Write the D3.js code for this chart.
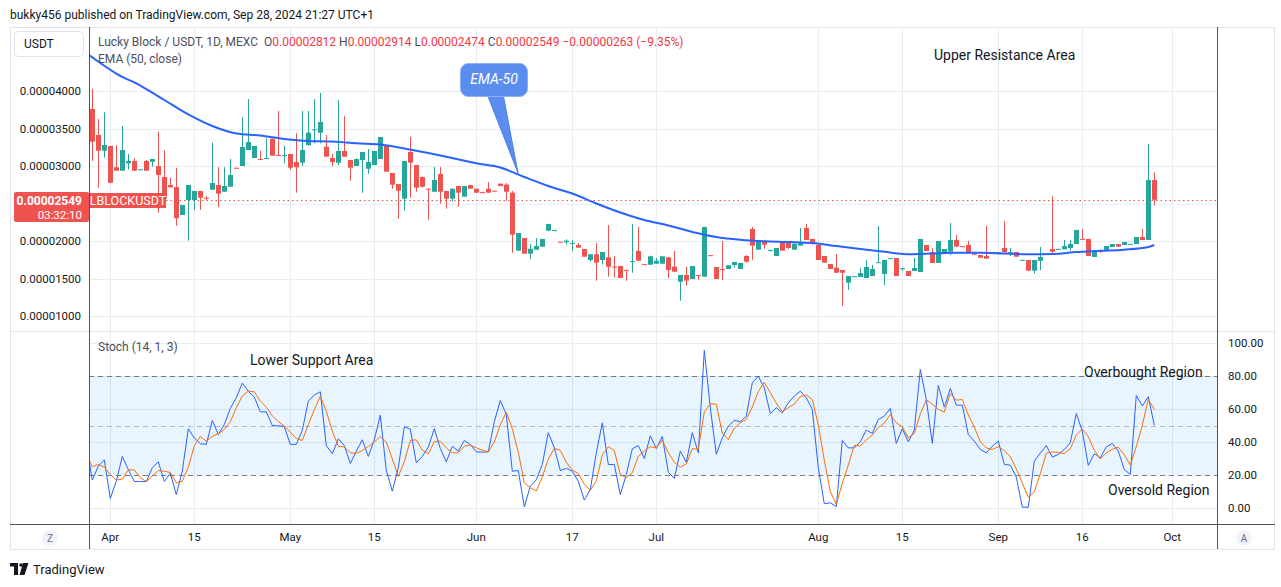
<!DOCTYPE html>
<html><head><meta charset="utf-8">
<script src="https://cdn.jsdelivr.net/npm/d3@7/dist/d3.min.js"></script>
<style>
body{margin:0;background:#fff;}
svg{display:block;font-family:Roboto,"Noto Sans",sans-serif;}
</style></head><body>
<svg id="c" width="1281" height="587"></svg>
<script>
// ---------- DATA (prices in units of 1e-8 USDT, one entry per daily bar, bar 0 = Mar 29 2024) ----------
const PRICE_UNIT = 1e-8;
const opens = [3760,3413,3204,3267,2983,2937,3036,3067,2950,3067,
3057,3000,2853,2747,2720,2347,2547,2547,2667,2577,
2684,2747,2657,2724,2977,3000,3213,3107,3093,3093,
3364,3147,3133,3160,3053,3044,3280,3480,3444,3257,
3107,3044,3200,3080,3000,3080,2964,3013,3093,3280,
2907,2760,2564,3187,3013,2853,2697,2657,2893,2667,
2564,2733,2591,2747,2697,2652,2697,2670,2764,2751,
2644,1871,2040,1831,1884,1924,2137,2140,1990,1983,
1970,1947,1893,1747,1823,1747,1783,1660,1667,1615,
1725,1867,1692,1684,1697,1697,1783,1657,1457,1547,
1493,1545,1524,1811,1653,1625,1627,1680,1627,1800,
2160,1884,1991,1878,1800,1991,1991,1884,1937,2173,
2027,1947,1800,1693,1644,1613,1444,1527,1520,1507,
1533,1714,1560,1767,1773,1634,1600,1600,1587,1947,
1853,1707,1827,1857,2013,1931,1947,1836,1813,1800,
1851,1847,1907,1847,1853,1745,1747,1604,1737,1825,
1893,1891,1889,1907,1960,2029,2027,1787,1880,1867,
1920,1960,1947,1958,1960,2053,2013,2812];
const highs = [4027,3627,3716,3270,3280,3533,3160,3102,2960,3080,
3093,3457,3209,2844,2977,2480,2747,2667,2667,2600,
3311,2983,2983,3093,2977,3649,3893,3267,3204,3369,
3364,3733,3267,3160,3436,3733,3733,3893,3973,3413,
3160,3880,3667,3080,3100,3187,3227,3200,3387,3280,
2907,2760,3067,3387,3013,2860,2697,2987,2987,2667,
2697,2733,2733,2747,2697,2652,2787,2670,2769,2773,
2667,2107,2040,1960,2040,2027,2227,2145,1990,2023,
2013,1973,1893,1823,1973,1853,2213,1800,1667,1615,
2227,2187,1692,1796,1773,1796,1783,1871,1547,1657,
1667,1545,2187,1811,1653,2000,1676,1720,1707,1813,
2187,1991,1991,1882,1907,1991,1991,1964,2173,2227,
2027,1947,1800,1693,1827,1613,1533,1531,1644,1747,
1680,2200,1747,1771,1773,1638,1600,1773,2027,1947,
1903,2000,1893,2240,2080,1931,2000,1836,1813,2200,
1851,1851,2267,1907,1853,1749,1747,1747,1920,1829,
2600,1895,2013,2013,2147,2160,2027,1880,1880,1933,
1960,1960,1987,1962,2053,2160,3293,2914];
const lows = [3067,2711,3111,2770,2937,2937,2956,2937,2950,2937,
2991,2377,2457,2716,2204,2347,2004,2413,2413,2547,
2684,2449,2657,2724,2964,3000,3213,3107,3080,3093,
3137,3133,3036,2947,2644,3000,3267,3303,3303,3124,
3000,3013,3124,2804,3000,2644,2897,3013,3093,2924,
2697,2297,2404,2577,2657,2711,2284,2650,2497,2431,
2524,2457,2591,2697,2644,2647,2644,2665,2733,2537,
1844,1871,1831,1760,1884,1924,2137,2140,1985,1956,
1867,1911,1791,1724,1471,1689,1524,1511,1507,1471,
1577,1737,1687,1684,1697,1697,1507,1591,1204,1404,
1493,1484,1524,1807,1493,1480,1627,1644,1627,1711,
1747,1884,1897,1857,1800,1871,1893,1884,1937,2013,
1951,1747,1711,1627,1577,1133,1347,1527,1520,1507,
1533,1714,1413,1767,1533,1600,1533,1600,1587,1867,
1707,1707,1827,1813,1924,1927,1836,1817,1777,1764,
1847,1847,1849,1800,1791,1745,1604,1564,1613,1825,
1813,1891,1889,1871,1960,2020,1800,1787,1840,1867,
1920,1924,1947,1958,1960,2013,2013,2474];
const closes = [3324,3204,3280,2777,2937,3213,3067,2937,2956,2937,
3093,2880,2564,2716,2303,2480,2747,2667,2577,2564,
2773,2631,2733,2880,2964,3253,3320,3267,3080,3107,
3137,3133,3147,2977,2983,3213,3444,3489,3587,3124,
3053,3200,3124,2977,3093,3187,3053,3200,3387,2924,
2751,2671,3067,3044,2711,2724,2684,2813,2657,2564,
2697,2644,2733,2697,2644,2647,2644,2665,2733,2657,
2084,2107,1831,1897,1933,2027,2227,2145,1985,2004,
1975,1911,1791,1823,1711,1853,1657,1655,1507,1610,
1732,1737,1687,1796,1737,1796,1613,1591,1547,1471,
1667,1541,2187,1807,1493,1621,1676,1720,1707,1724,
1937,1991,1951,1882,1907,1871,1907,1964,1973,2013,
1969,1747,1711,1627,1577,1577,1533,1531,1573,1653,
1627,1718,1747,1771,1533,1638,1533,1640,2027,1867,
1707,2000,1893,2013,1924,1927,1836,1817,1777,1764,
1847,1851,1849,1851,1791,1749,1604,1747,1787,1829,
1857,1895,1933,1960,2147,2025,1800,1880,1853,1933,
1960,1924,1987,1962,2053,2013,2812,2549];

// EMA(50) at these bar indices
const emaBars = [-1,0,4,8,12,16,20,24,28,32,36,40,44,48,52,56,60,64,68,72,76,80,84,88,92,96,100,104,108,112,116,120,124,128,132,136,140,144,148,152,156,160,164,168,172,176,177];
const emaValues = [4507,4449,4233,4073,3880,3687,3533,3433,3407,3360,3333,3327,3303,3287,3233,3173,3107,3036,2980,2853,2733,2633,2500,2380,2280,2207,2120,2053,2016,1996,1987,1973,1933,1893,1856,1824,1833,1844,1844,1833,1823,1827,1853,1869,1884,1920,1947];

// Stochastic (14,1,3): values from bar -1 to bar 177
const stochStartBar = -1;
const stochK = [38.7,
16.8,25.3,29.1,5.6,16.1,31.2,23.2,15.9,15.9,15.9,
24.3,27.9,15.9,21.0,8.0,22.2,48.0,42.5,38.9,38.5,
53.1,44.5,50.6,60.4,66.9,75.8,70.9,67.3,58.3,58.3,
50.0,49.8,49.4,38.5,38.5,47.0,64.8,68.5,70.5,37.8,
32.8,41.9,37.8,26.9,34.4,41.3,31.2,41.3,56.3,22.6,
10.1,24.3,49.2,47.8,27.3,31.2,36.8,48.0,36.0,27.9,
37.4,34.4,40.9,38.5,34.0,33.8,34.0,52.3,65.2,56.7,
22.2,22.6,0.5,13.1,17.0,26.3,45.6,36.4,22.6,23.9,
22.2,16.1,4.6,11.1,33.4,51.6,26.3,26.3,8.0,20.2,
35.8,37.8,29.9,43.7,36.0,43.3,21.6,17.8,34.4,27.7,
45.6,33.4,95.7,60.8,32.4,42.5,49.6,53.1,52.3,55.7,
76.0,80.0,72.9,57.1,60.8,57.7,63.8,67.9,70.9,66.9,
59.8,24.3,2.4,3.0,0.7,40.9,36.4,36.4,40.1,47.2,
45.2,53.7,55.7,60.4,39.1,48.0,40.1,47.2,84.1,65.8,
39.1,74.4,61.2,72.5,62.4,62.4,44.5,40.5,35.4,33.4,
37.4,40.5,26.3,25.9,18.6,0.3,0.3,28.3,33.2,37.8,
30.8,32.4,35.4,39.5,57.3,46.6,25.7,32.8,30.3,37.0,
39.1,34.4,23.2,20.2,68.3,61.8,67.5,50.2];
const stochD = [32.6,
24.9,26.3,24.7,20.2,16.8,17.4,23.0,23.0,18.2,15.9,
19.2,22.6,22.2,21.4,15.1,16.1,24.7,37.6,43.3,40.5,
43.5,44.9,47.6,52.3,60.8,67.9,70.9,70.5,64.8,61.2,
55.9,52.3,49.8,46.0,42.1,40.9,50.6,59.6,67.9,58.7,
46.6,37.4,37.0,33.4,33.0,34.8,37.2,39.9,43.3,40.1,
29.7,19.0,28.0,40.9,41.3,35.0,32.8,40.1,40.5,36.4,
33.4,33.4,37.4,38.1,36.4,35.0,33.9,40.0,50.5,58.1,
48.0,33.8,15.1,12.1,10.2,18.8,29.6,36.1,34.9,27.6,
22.9,20.7,14.3,10.6,16.4,32.0,37.1,34.7,20.2,18.2,
21.3,31.3,34.5,37.1,36.5,41.0,33.6,27.6,24.6,26.6,
35.9,35.6,58.2,63.3,63.0,45.2,41.5,48.4,51.7,53.7,
61.3,70.6,76.3,70.0,63.6,58.5,60.8,63.1,67.5,68.6,
65.9,50.3,28.8,9.9,2.0,14.9,26.0,37.9,37.6,41.2,
44.2,48.7,51.5,56.6,51.7,49.2,42.4,45.1,57.1,65.7,
63.0,59.8,58.2,69.4,65.4,65.8,56.4,49.1,40.1,36.4,
35.4,37.1,34.7,30.9,23.6,14.9,6.4,9.6,20.6,33.1,
33.9,33.7,32.9,35.8,44.1,47.8,43.2,35.0,29.6,33.4,
35.5,36.8,32.2,25.9,37.2,50.1,65.9,59.8];

const timeTickLabels = ["Apr","15","May","15","Jun","17","Jul","Aug","15","Sep","16","Oct"];
const timeTickBars = [3,17,33,47,64,80,94,121,135,151,165,180];
const priceTicks = [0.00001,0.000015,0.00002,0.000025,0.00003,0.000035,0.00004];
const stochTicks = [0,20,40,60,80,100];
const stochLevels = [80,50,20];
const prevClose = 2812; // previous day close for change
const symbolTitle = "Lucky Block / USDT, 1D, MEXC";

// ---------- LAYOUT ----------
const L = 89, R = 1217, TOP = 27, SEP = 331, SBOT = 524, ABOT = 549;
const UP = "#26a69a", DN = "#ef5350", TXT = "#131722";
const svg = d3.select("#c");
const x = d3.scaleLinear().domain([-0.55, 187.45]).range([L, R]);
const y = d3.scaleLinear().domain([0.00001, 0.00004]).range([316, 91]);
const ys = d3.scaleLinear().domain([0, 100]).range([507.7, 343.3]);
const P = v => v * PRICE_UNIT;

const defs = svg.append("defs");
defs.append("clipPath").attr("id","cm").append("rect").attr("x",L).attr("y",TOP).attr("width",R-L).attr("height",SEP-TOP);
defs.append("clipPath").attr("id","cs").append("rect").attr("x",L).attr("y",SEP).attr("width",R-L).attr("height",SBOT-SEP);

// header
svg.append("text").attr("x",10).attr("y",19).attr("font-size",12).attr("fill",TXT)
  .text("bukky456 published on TradingView.com, Sep 28, 2024 21:27 UTC+1");

// frame
svg.append("rect").attr("x",10.5).attr("y",27.5).attr("width",1264).attr("height",ABOT-27).attr("fill","none").attr("stroke","#e0e3eb");

// grid main
const gm = svg.append("g");
gm.selectAll("line.h").data(priceTicks).join("line")
  .attr("x1",L).attr("x2",R).attr("y1",d=>Math.round(y(d))+0.5).attr("y2",d=>Math.round(y(d))+0.5)
  .attr("stroke","#e6edf3");
gm.selectAll("line.v").data(timeTickBars).join("line")
  .attr("x1",d=>Math.round(x(d))+0.5).attr("x2",d=>Math.round(x(d))+0.5).attr("y1",TOP).attr("y2",SBOT)
  .attr("stroke","#e6edf3");
// grid stoch
svg.append("g").selectAll("line").data(stochTicks).join("line")
  .attr("x1",L).attr("x2",R).attr("y1",d=>Math.round(ys(d))+0.5).attr("y2",d=>Math.round(ys(d))+0.5)
  .attr("stroke","#e6edf3");

// price axis labels (left)
svg.append("g").selectAll("text").data(priceTicks.filter(d=>d!==0.000025)).join("text")
  .attr("x",81).attr("y",d=>y(d)+4).attr("text-anchor","end").attr("font-size",11.5).attr("fill",TXT)
  .text(d=>d.toFixed(8));

// candles
const idx = d3.range(opens.length);
const gc = svg.append("g").attr("clip-path","url(#cm)");
const col = i => closes[i] >= opens[i] ? UP : DN;
gc.selectAll("line").data(idx).join("line")
  .attr("x1",i=>Math.round(x(i))+0.5).attr("x2",i=>Math.round(x(i))+0.5)
  .attr("y1",i=>y(P(highs[i]))).attr("y2",i=>y(P(lows[i])))
  .attr("stroke",col).attr("stroke-width",1);
gc.selectAll("rect").data(idx).join("rect")
  .attr("x",i=>Math.round(x(i))-2).attr("width",5)
  .attr("y",i=>y(P(Math.max(opens[i],closes[i]))))
  .attr("height",i=>Math.max(1,Math.abs(y(P(opens[i]))-y(P(closes[i])))))
  .attr("fill",col);

// EMA
const emaIdx = d3.range(emaBars.length);
gc.append("path")
  .attr("fill","none").attr("stroke","#2962ff").attr("stroke-width",2)
  .attr("d",d3.line().curve(d3.curveMonotoneX).x(k=>x(emaBars[k])).y(k=>y(P(emaValues[k])))(emaIdx));

// last price dotted line
const lastI = closes.length-1;
const lastY = Math.round(y(P(closes[lastI])))+0.5;
svg.append("line").attr("x1",166).attr("x2",R).attr("y1",lastY).attr("y2",lastY)
  .attr("stroke",DN).attr("stroke-width",1).attr("stroke-dasharray","1.5,3");

// legend
const lg = svg.append("text").attr("x",98).attr("y",46).attr("font-size",12).attr("fill","#4b4f5c").attr("xml:space","preserve");
lg.append("tspan").text(symbolTitle + "  ");
const chg = closes[lastI]-prevClose;
[["O",opens[lastI]],["H",highs[lastI]],["L",lows[lastI]],["C",closes[lastI]]].forEach(([k,v])=>{
  lg.append("tspan").attr("fill","#4b4f5c").text(k);
  lg.append("tspan").attr("fill","#f23645").text(P(v).toFixed(8)+" ");
});
lg.append("tspan").attr("fill","#f23645").text("\u2212"+P(Math.abs(chg)).toFixed(8)+" (\u2212"+(Math.abs(chg)/prevClose*100).toFixed(2)+"%)");
svg.append("text").attr("x",98).attr("y",63).attr("font-size",12).attr("fill","#4b4f5c").text("EMA (50, close)");

// USDT box
svg.append("rect").attr("x",14.5).attr("y",31.5).attr("width",69).attr("height",25).attr("rx",4)
  .attr("fill","#fff").attr("stroke","#e0e3eb");
svg.append("text").attr("x",24).attr("y",48).attr("font-size",12).attr("fill",TXT).text("USDT");

// current price label
svg.append("rect").attr("x",14).attr("y",192).attr("width",75).attr("height",30).attr("rx",2).attr("fill",DN);
svg.append("text").attr("x",82).attr("y",205).attr("text-anchor","end").attr("font-size",12).attr("font-weight","bold").attr("fill","#fff").text(P(closes[lastI]).toFixed(8));
svg.append("text").attr("x",82).attr("y",219).attr("text-anchor","end").attr("font-size",11.5).attr("fill","#fff").text("03:32:10");
svg.append("rect").attr("x",90).attr("y",193).attr("width",76).attr("height",15).attr("fill",DN);
svg.append("text").attr("x",128).attr("y",205).attr("text-anchor","middle").attr("font-size",12.5).attr("fill","#fff").text("LBLOCKUSDT");

// annotations main
svg.append("text").attr("x",934).attr("y",60).attr("font-size",14).attr("fill",TXT).text("Upper Resistance Area");
// EMA-50 callout
svg.append("path").attr("d","M487,94 L518,173 L503,94 Z").attr("fill","#5b8def").attr("stroke","#4a7fe8").attr("stroke-width",1);
svg.append("rect").attr("x",460.5).attr("y",63.5).attr("width",67).attr("height",33).attr("rx",8)
  .attr("fill","#5b8def").attr("stroke","#8fb0f5");
svg.append("path").attr("d","M488,95 L503,95").attr("stroke","#5b8def").attr("stroke-width",2);
svg.append("text").attr("x",494).attr("y",84).attr("text-anchor","middle").attr("font-size",14).attr("font-style","italic").attr("fill","#fff").text("EMA-50");

// pane separator
svg.append("line").attr("x1",10).attr("x2",1275).attr("y1",SEP+0.5).attr("y2",SEP+0.5).attr("stroke","#e0e3eb");

// stoch band
svg.append("rect").attr("x",L).attr("width",R-L).attr("y",ys(80)).attr("height",ys(20)-ys(80)).attr("fill","rgba(33,150,243,0.1)");
svg.append("g").selectAll("line").data(stochLevels).join("line")
  .attr("x1",L).attr("x2",R).attr("y1",d=>Math.round(ys(d))+0.5).attr("y2",d=>Math.round(ys(d))+0.5)
  .attr("stroke","#787b86").attr("stroke-opacity",d=>d===50?0.5:1).attr("stroke-dasharray","5,4");

const gs = svg.append("g").attr("clip-path","url(#cs)");
const sline = arr => d3.line().x((v,k)=>x(stochStartBar+k)).y(v=>ys(v))(arr);
gs.append("path").attr("d",sline(stochK)).attr("fill","none").attr("stroke","#2962ff").attr("stroke-width",1);
gs.append("path").attr("d",sline(stochD)).attr("fill","none").attr("stroke","#ff6d00").attr("stroke-width",1);

svg.append("text").attr("x",98).attr("y",351).attr("font-size",12).attr("fill","#4b4f5c").text("Stoch (14, 1, 3)");
svg.append("text").attr("x",250).attr("y",365).attr("font-size",14).attr("fill",TXT).text("Lower Support Area");
svg.append("text").attr("x",1084).attr("y",377).attr("font-size",14).attr("fill",TXT).text("Overbought Region");
svg.append("text").attr("x",1108).attr("y",495).attr("font-size",14).attr("fill",TXT).text("Oversold Region");

// stoch axis labels
svg.append("g").selectAll("text").data(stochTicks).join("text")
  .attr("x",1228).attr("y",d=>ys(d)+4).attr("font-size",11.5).attr("fill",TXT).text(d=>d.toFixed(2));

// axis borders
svg.append("line").attr("x1",L+0.5).attr("x2",L+0.5).attr("y1",TOP).attr("y2",ABOT).attr("stroke","#50535e");
svg.append("line").attr("x1",R+0.5).attr("x2",R+0.5).attr("y1",TOP).attr("y2",ABOT).attr("stroke","#50535e");
svg.append("line").attr("x1",10).attr("x2",1275).attr("y1",SBOT+0.5).attr("y2",SBOT+0.5).attr("stroke","#50535e");

// time axis
svg.append("g").selectAll("text").data(timeTickBars).join("text")
  .attr("x",d=>x(d)).attr("y",541).attr("text-anchor","middle").attr("font-size",11.5).attr("fill",TXT)
  .text((d,k)=>timeTickLabels[k]);
[[50,"Z"],[1244,"A"]].forEach(([cx,t])=>{
  svg.append("circle").attr("cx",cx).attr("cy",538).attr("r",8).attr("fill","#f0f3fa");
  svg.append("text").attr("x",cx).attr("y",542).attr("text-anchor","middle").attr("font-size",10).attr("fill","#6a6d78").text(t);
});

// footer logo
const lgG = svg.append("g").attr("fill",TXT);
lgG.append("path").attr("d","M10,563 H18 V575 H14 V566.5 H10 Z");
lgG.append("circle").attr("cx",21).attr("cy",565).attr("r",1.8);
lgG.append("path").attr("d","M23,563 H28.5 L24.5,575 H19.5 Z");
svg.append("text").attr("x",33).attr("y",574).attr("font-size",13).attr("fill",TXT).text("TradingView");
</script>
</body></html>
